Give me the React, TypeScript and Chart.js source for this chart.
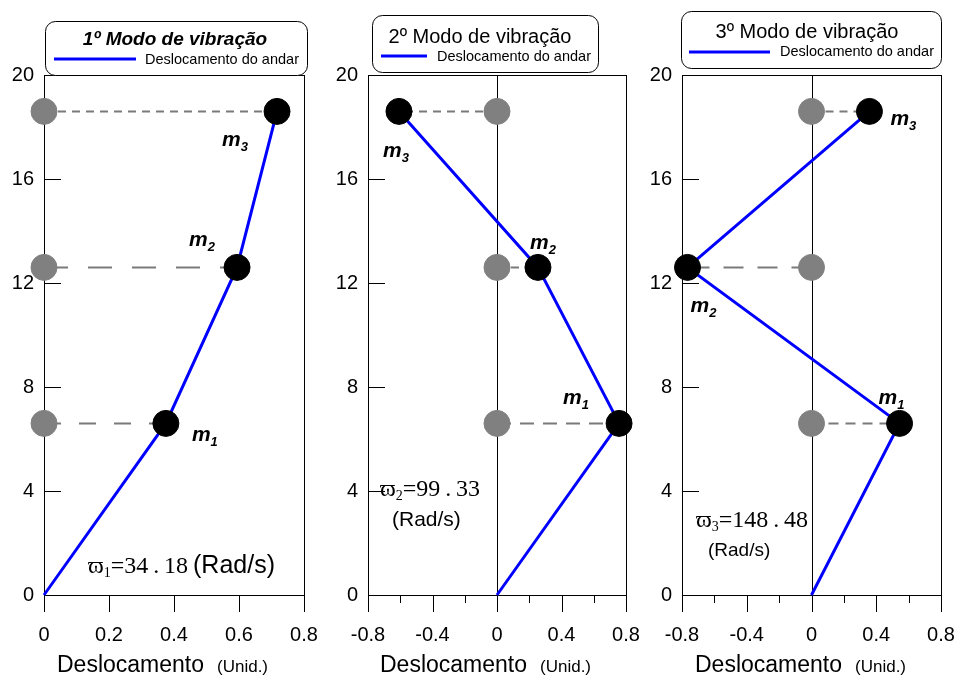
import React, { useEffect, useRef } from 'react';
import { Chart, registerables } from 'chart.js';

Chart.register(...registerables);

// ---- data ----
const floorHeights = [6.6, 12.6, 18.6];
const massIndex = ['1', '2', '3'];
const mode1Disp = [0.375, 0.594, 0.717];
const mode2Disp = [0.757, 0.254, -0.608];
const mode3Disp = [0.544, -0.766, 0.358];
const modeTitles = ['1º Modo de vibração', '2º Modo de vibração', '3º Modo de vibração'];
const naturalFrequencies = [34.18, 99.33, 148.48];
const legendLabel = 'Deslocamento do andar';
const xAxisTitle = 'Deslocamento';
const xAxisUnit = '(Unid.)';
const freqUnit = '(Rad/s)';
const yTickValues = [0, 4, 8, 12, 16, 20];
const xTicksMode1 = [0, 0.2, 0.4, 0.6, 0.8];
const xTicksSym = [-0.8, -0.4, 0, 0.4, 0.8];
const xMinorSym = [-0.6, -0.2, 0.2, 0.6];

const SANS = '"Liberation Sans", Arial, sans-serif';
const SERIF = '"Liberation Serif", "Times New Roman", serif';
const CANVAS_H = 677;

interface PanelSpec {
  idx: number;
  canvasLeft: number;
  canvasWidth: number;
  areaLeft: number;
  areaRight: number;
  xMin: number;
  xMax: number;
  xTicks: number[];
  xMinor: number[];
  disp: number[];
  zeroLine: boolean;
  titleFont: string;
  titleCx: number;
  titleBase: number;
  box: [number, number, number, number];
  legLine: [number, number, number];
  legText: [number, number];
  labelOffsets: [number, number][];
  dashes: number[][];
  omega: { x: number; base: number; unitX: number; unitBase: number; size: number; unitSize: number };
  axisTitleX: number;
}

const panels: PanelSpec[] = [
  {
    idx: 0, canvasLeft: 0, canvasWidth: 330, areaLeft: 44, areaRight: 304,
    xMin: 0, xMax: 0.8, xTicks: xTicksMode1, xMinor: [], disp: mode1Disp, zeroLine: false,
    titleFont: `italic bold 19px ${SANS}`, titleCx: 175, titleBase: 45,
    box: [45, 21, 262, 54], legLine: [54, 136, 59], legText: [145, 64],
    labelOffsets: [[26, 18], [-48, -21], [-55, 35]],
    dashes: [[17, 18], [24, 20], [8, 6]],
    omega: { x: 88, base: 573, unitX: 193, unitBase: 573, size: 24, unitSize: 25 },
    axisTitleX: 57,
  },
  {
    idx: 1, canvasLeft: 320, canvasWidth: 330, areaLeft: 368, areaRight: 626,
    xMin: -0.8, xMax: 0.8, xTicks: xTicksSym, xMinor: xMinorSym, disp: mode2Disp, zeroLine: true,
    titleFont: `20px ${SANS}`, titleCx: 480, titleBase: 43,
    box: [372, 15, 226, 57], legLine: [381, 427, 56], legText: [437, 61],
    labelOffsets: [[-56, -19], [-8, -18], [-16, 46]],
    dashes: [[14, 9], [8, 6], [8, 6]],
    omega: { x: 380, base: 496, unitX: 392, unitBase: 526, size: 24, unitSize: 21 },
    axisTitleX: 380,
  },
  {
    idx: 2, canvasLeft: 640, canvasWidth: 317, areaLeft: 682, areaRight: 941,
    xMin: -0.8, xMax: 0.8, xTicks: xTicksSym, xMinor: xMinorSym, disp: mode3Disp, zeroLine: true,
    titleFont: `20px ${SANS}`, titleCx: 807, titleBase: 38,
    box: [681, 11, 260, 57], legLine: [689, 770, 52], legText: [780, 56],
    labelOffsets: [[-21, -19], [3, 45], [21, 14]],
    dashes: [[10, 7], [20, 14], [8, 6]],
    omega: { x: 696, base: 527, unitX: 708, unitBase: 556, size: 24, unitSize: 19 },
    axisTitleX: 695,
  },
];

function makeDecorPlugin(spec: PanelSpec) {
  const ox = spec.canvasLeft;
  return {
    id: 'panelDecor',
    beforeDatasetsDraw(chart: any) {
      const { ctx, chartArea } = chart;
      const { left, right, top, bottom } = chartArea;
      const xs = chart.scales.x;
      const ys = chart.scales.y;
      ctx.save();
      ctx.strokeStyle = '#000';
      ctx.lineWidth = 1;
      ctx.strokeRect(Math.round(left) + 0.5, Math.round(top) + 0.5, Math.round(right - left), Math.round(bottom - top));
      ctx.beginPath();
      // reference line at zero displacement
      if (spec.zeroLine) {
        const x0 = Math.round(xs.getPixelForValue(0)) + 0.5;
        ctx.moveTo(x0, ys.getPixelForValue(0));
        ctx.lineTo(x0, ys.getPixelForValue(20));
      }
      // inward ticks on the height axis
      yTickValues.forEach((v) => {
        if (v === 0 || v === 20) return;
        const y = Math.round(ys.getPixelForValue(v)) + 0.5;
        ctx.moveTo(left, y);
        ctx.lineTo(left + 17, y);
      });
      // outward ticks on the displacement axis
      spec.xTicks.forEach((v) => {
        const x = Math.round(xs.getPixelForValue(v)) + 0.5;
        ctx.moveTo(x, bottom);
        ctx.lineTo(x, bottom + 17);
      });
      spec.xMinor.forEach((v) => {
        const x = Math.round(xs.getPixelForValue(v)) + 0.5;
        ctx.moveTo(x, bottom);
        ctx.lineTo(x, bottom + 8);
      });
      ctx.stroke();
      ctx.restore();
    },
    afterDatasetsDraw(chart: any) {
      const { ctx } = chart;
      const xs = chart.scales.x;
      const ys = chart.scales.y;
      ctx.save();
      ctx.fillStyle = '#000';
      ctx.textBaseline = 'alphabetic';

      // mass labels m1, m2, m3
      spec.disp.forEach((d, i) => {
        const px = xs.getPixelForValue(d) + spec.labelOffsets[i][0];
        const py = ys.getPixelForValue(floorHeights[i]) + spec.labelOffsets[i][1];
        ctx.font = `italic bold 21px ${SANS}`;
        ctx.textAlign = 'left';
        ctx.fillText('m', px, py);
        const w = ctx.measureText('m').width;
        ctx.font = `italic bold 13px ${SANS}`;
        ctx.fillText(massIndex[i], px + w, py + 5);
      });

      // legend box
      const [bx, by, bw, bh] = spec.box;
      ctx.beginPath();
      ctx.roundRect(bx - ox + 0.5, by + 0.5, bw, bh, 10);
      ctx.fillStyle = '#fff';
      ctx.fill();
      ctx.strokeStyle = '#000';
      ctx.lineWidth = 1;
      ctx.stroke();
      ctx.fillStyle = '#000';
      ctx.font = spec.titleFont;
      ctx.textAlign = 'center';
      ctx.fillText(modeTitles[spec.idx], spec.titleCx - ox, spec.titleBase);
      ctx.beginPath();
      ctx.strokeStyle = '#0000ff';
      ctx.lineWidth = 3;
      ctx.moveTo(spec.legLine[0] - ox, spec.legLine[2]);
      ctx.lineTo(spec.legLine[1] - ox, spec.legLine[2]);
      ctx.stroke();
      ctx.font = `14.5px ${SANS}`;
      ctx.textAlign = 'left';
      ctx.fillText(legendLabel, spec.legText[0] - ox, spec.legText[1]);

      // natural frequency
      const om = spec.omega;
      let x = om.x - ox;
      ctx.font = `${om.size}px ${SERIF}`;
      ctx.fillText('\u03D6', x, om.base);
      x += ctx.measureText('\u03D6').width;
      ctx.font = `14px ${SERIF}`;
      ctx.fillText(String(spec.idx + 1), x, om.base + 4);
      x += ctx.measureText(String(spec.idx + 1)).width;
      ctx.font = `${om.size}px ${SERIF}`;
      const freqText = '=' + naturalFrequencies[spec.idx].toFixed(2).replace('.', '\u2009.\u2009');
      ctx.fillText(freqText, x, om.base);
      ctx.font = `${om.unitSize}px ${SANS}`;
      ctx.fillText(freqUnit, om.unitX - ox, om.unitBase);

      // axis title
      ctx.font = `23px ${SANS}`;
      const tx = spec.axisTitleX - ox;
      ctx.fillText(xAxisTitle, tx, 672);
      const tw = ctx.measureText(xAxisTitle).width;
      ctx.font = `17px ${SANS}`;
      ctx.fillText(xAxisUnit, tx + tw + 13, 672);
      ctx.restore();
    },
  };
}

function ModePanel({ spec }: { spec: PanelSpec }) {
  const ref = useRef<HTMLCanvasElement>(null);
  useEffect(() => {
    const canvas = ref.current;
    if (!canvas) return;
    const h = floorHeights;
    const datasets: any[] = [];
    datasets.push({
      label: 'massas',
      data: spec.disp.map((d, i) => ({ x: d, y: h[i] })),
      showLine: false,
      pointRadius: 13,
      pointBackgroundColor: '#000',
      pointBorderColor: '#000',
      pointBorderWidth: 1,
      order: 0,
      clip: false,
    });
    datasets.push({
      label: legendLabel,
      data: [{ x: 0, y: 0 }, ...spec.disp.map((d, i) => ({ x: d, y: h[i] }))],
      showLine: true,
      borderColor: '#0000ff',
      borderWidth: 3,
      pointRadius: 0,
      order: 1,
      clip: false,
    });
    datasets.push({
      label: 'posição inicial',
      data: h.map((y) => ({ x: 0, y })),
      showLine: false,
      pointRadius: 13,
      pointBackgroundColor: '#808080',
      pointBorderColor: '#808080',
      pointBorderWidth: 1,
      order: 2,
      clip: false,
    });
    spec.dashes.forEach((dash, i) => {
      datasets.push({
        label: 'nível ' + (i + 1),
        data: [{ x: 0, y: h[i] }, { x: spec.disp[i], y: h[i] }],
        showLine: true,
        borderColor: '#7a7a7a',
        borderWidth: 2,
        borderDash: dash,
        pointRadius: 0,
        order: 3,
        clip: false,
      });
    });

    const chart = new Chart(canvas, {
      type: 'scatter',
      data: { datasets },
      options: {
        responsive: false,
        animation: false,
        devicePixelRatio: 1,
        events: [],
        layout: {
          padding: {
            top: 75,
            bottom: 0,
            left: 0,
            right: spec.canvasWidth - (spec.areaRight - spec.canvasLeft),
          },
        },
        plugins: { legend: { display: false }, tooltip: { enabled: false } },
        scales: {
          x: {
            type: 'linear',
            min: spec.xMin,
            max: spec.xMax,
            afterFit: (s: any) => {
              s.height = CANVAS_H - 595;
              s.paddingLeft = 0;
              s.paddingRight = 0;
            },
            afterBuildTicks: (s: any) => { s.ticks = spec.xTicks.map((v) => ({ value: v })); },
            grid: { display: false, drawTicks: false },
            border: { display: false },
            ticks: {
              padding: 28,
              autoSkip: false,
              maxRotation: 0,
              color: '#000',
              font: { family: SANS, size: 20 },
              callback: (v: any) => String(Math.round(Number(v) * 10) / 10),
            },
          },
          y: {
            type: 'linear',
            min: 0,
            max: 20,
            afterFit: (s: any) => {
              s.width = spec.areaLeft - spec.canvasLeft;
              s.paddingTop = 0;
              s.paddingBottom = 0;
            },
            afterBuildTicks: (s: any) => { s.ticks = yTickValues.map((v) => ({ value: v })); },
            grid: { display: false, drawTicks: false },
            border: { display: false },
            ticks: {
              padding: 10,
              color: '#000',
              font: { family: SANS, size: 20 },
              callback: (v: any) => String(v),
            },
          },
        },
      },
      plugins: [makeDecorPlugin(spec)],
    } as any);
    return () => chart.destroy();
  }, [spec]);

  return (
    <canvas
      ref={ref}
      width={spec.canvasWidth}
      height={CANVAS_H}
      style={{
        position: 'absolute',
        left: spec.canvasLeft,
        top: 0,
        width: spec.canvasWidth,
        height: CANVAS_H,
      }}
    />
  );
}

export default function App() {
  return (
    <div
      style={{
        position: 'absolute',
        left: 0,
        top: 0,
        width: 957,
        height: CANVAS_H,
        background: '#fff',
        overflow: 'hidden',
      }}
    >
      {panels.map((p) => (
        <ModePanel key={p.idx} spec={p} />
      ))}
    </div>
  );
}
